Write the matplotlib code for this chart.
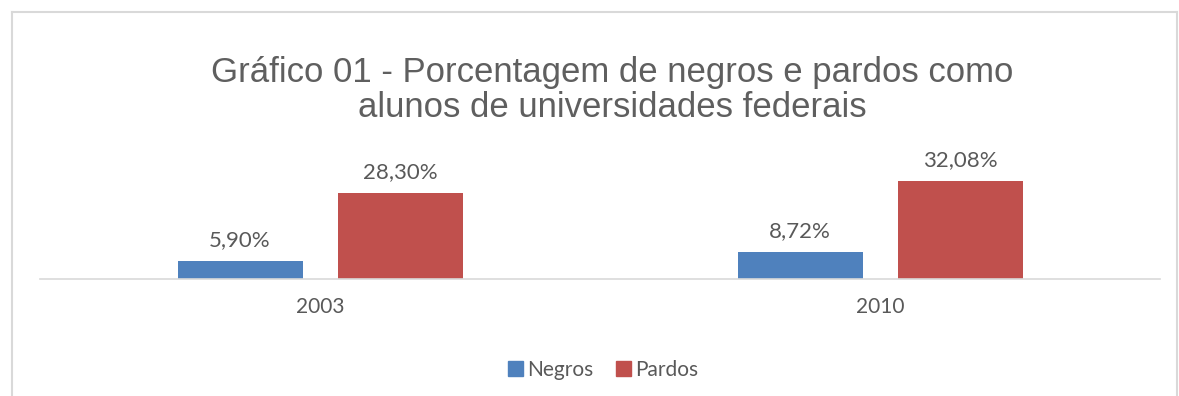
import matplotlib
matplotlib.use("Agg")
import matplotlib.pyplot as plt
from matplotlib.lines import Line2D
from matplotlib.patches import Patch
import numpy as np

categories = ["2003", "2010"]
negros = [5.90, 8.72]
pardos = [28.30, 32.08]
negros_labels = ["5,90%", "8,72%"]
pardos_labels = ["28,30%", "32,08%"]
series_names = ["Negros", "Pardos"]
title = "Gráfico 01 - Porcentagem de negros e pardos como\nalunos de universidades federais"

W, H = 1179, 396
fig = plt.figure(figsize=(W / 100, H / 100), dpi=100)
fig.patch.set_facecolor("white")

# chart frame
frame_col = "#D9D9D9"
fig.add_artist(Line2D([12 / W, 12 / W], [0, 1 - 12 / H], transform=fig.transFigure, color=frame_col, lw=1.5))
fig.add_artist(Line2D([12 / W, 1177 / W], [1 - 12 / H, 1 - 12 / H], transform=fig.transFigure, color=frame_col, lw=1.5))
fig.add_artist(Line2D([1177 / W, 1177 / W], [0, 1 - 12 / H], transform=fig.transFigure, color=frame_col, lw=1.5))

ymax = 40.0
px_per_unit = 3.04
ax_h = ymax * px_per_unit
ax = fig.add_axes([40 / W, (H - 279) / H, 1120 / W, ax_h / H])
ax.set_xlim(-0.5, 1.5)
ax.set_ylim(0, ymax)

x = np.arange(len(categories))
bw = 125 / 560
off = 80 / 560
blue = "#4F81BD"
red = "#C0504D"
b1 = ax.bar(x - off, negros, bw, color=blue)
b2 = ax.bar(x + off, pardos, bw, color=red)

lab_font = ["Lato", "DejaVu Sans"]
txt_col = "#595959"
for rect, lab in zip(b1, negros_labels):
    ax.annotate(lab, (rect.get_x() + rect.get_width() / 2, rect.get_height()),
                xytext=(0, 8), textcoords="offset points", ha="center", va="bottom",
                fontsize=16, color=txt_col, family=lab_font)
for rect, lab in zip(b2, pardos_labels):
    ax.annotate(lab, (rect.get_x() + rect.get_width() / 2, rect.get_height()),
                xytext=(0, 8), textcoords="offset points", ha="center", va="bottom",
                fontsize=16, color=txt_col, family=lab_font)

for s in ["top", "right", "left"]:
    ax.spines[s].set_visible(False)
ax.spines["bottom"].set_color("#D9D9D9")
ax.spines["bottom"].set_linewidth(1.2)
ax.set_yticks([])
ax.set_xticks(x)
ax.set_xticklabels(categories, fontsize=15, color=txt_col, family=lab_font)
ax.tick_params(axis="x", length=0, pad=13)

fig.text(612 / W, 1 - 90 / H, title, ha="center", va="center", fontsize=25,
         color="#5F5F5F", family=["Liberation Sans", "DejaVu Sans"], linespacing=1.08)

handles = [Patch(color=blue, label=series_names[0]), Patch(color=red, label=series_names[1])]
leg = fig.legend(handles=handles, loc="center", bbox_to_anchor=(603 / W, 1 - 370 / H), ncol=2,
                 frameon=False, prop={"family": lab_font, "size": 15}, handlelength=0.7,
                 handleheight=0.7, handletextpad=0.2, columnspacing=1.1)
for t in leg.get_texts():
    t.set_color(txt_col)

fig.savefig("out.png", dpi=100, facecolor="white")
